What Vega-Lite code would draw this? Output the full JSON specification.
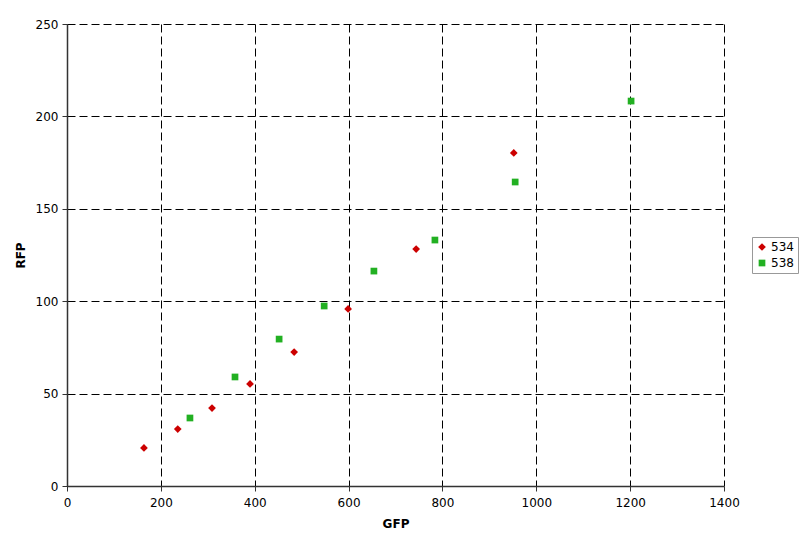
{
  "$schema": "https://vega.github.io/schema/vega-lite/v6.json",
  "width": 657,
  "height": 462,
  "autosize": {"type": "none"},
  "padding": {"left": 67, "top": 24, "right": 76, "bottom": 61},
  "background": "white",
  "config": {
    "view": {"stroke": null},
    "font": "DejaVu Sans",
    "axis": {
      "labelFont": "DejaVu Sans",
      "labelFontSize": 12,
      "labelColor": "#000000",
      "labelFlush": false,
      "labelOverlap": false,
      "format": "d",
      "titleFont": "DejaVu Sans",
      "titleFontSize": 12,
      "titleFontWeight": "bold",
      "titleColor": "#000000",
      "domainColor": "#333333",
      "domainWidth": 1.5,
      "tickColor": "#333333",
      "tickSize": 5,
      "gridColor": "#000000",
      "gridDash": [8, 4],
      "gridWidth": 1,
      "gridOpacity": 1
    }
  },
  "data": {
    "values": [
      {"series": "534", "GFP": 164, "RFP": 20.6},
      {"series": "534", "GFP": 236, "RFP": 30.8},
      {"series": "534", "GFP": 309, "RFP": 42.2},
      {"series": "534", "GFP": 390, "RFP": 55.2},
      {"series": "534", "GFP": 484, "RFP": 72.5},
      {"series": "534", "GFP": 599, "RFP": 95.8},
      {"series": "534", "GFP": 744, "RFP": 128.2},
      {"series": "534", "GFP": 952, "RFP": 180.2},
      {"series": "538", "GFP": 262, "RFP": 36.8},
      {"series": "538", "GFP": 358, "RFP": 59.0},
      {"series": "538", "GFP": 452, "RFP": 79.5},
      {"series": "538", "GFP": 548, "RFP": 97.4},
      {"series": "538", "GFP": 654, "RFP": 116.3},
      {"series": "538", "GFP": 784, "RFP": 133.1},
      {"series": "538", "GFP": 955, "RFP": 164.5},
      {"series": "538", "GFP": 1202, "RFP": 208.3}
    ]
  },
  "mark": {"type": "point", "filled": true, "opacity": 1},
  "encoding": {
    "x": {
      "field": "GFP",
      "type": "quantitative",
      "scale": {"domain": [0, 1400], "nice": false, "zero": true},
      "axis": {"values": [0, 200, 400, 600, 800, 1000, 1200, 1400], "title": "GFP", "labelPadding": 6, "titlePadding": 10}
    },
    "y": {
      "field": "RFP",
      "type": "quantitative",
      "scale": {"domain": [0, 250], "nice": false},
      "axis": {"values": [0, 50, 100, 150, 200, 250], "title": "RFP", "labelPadding": 4, "titlePadding": 8}
    },
    "color": {
      "field": "series",
      "type": "nominal",
      "scale": {"domain": ["534", "538"], "range": ["#cc0000", "#22b022"]},
      "legend": {
        "title": null,
        "orient": "none",
        "legendX": 685,
        "legendY": 213,
        "strokeColor": "#999999",
        "padding": 4,
        "labelFont": "DejaVu Sans",
        "labelFontSize": 12,
        "labelColor": "#000000",
        "labelOffset": 3,
        "symbolSize": 40,
        "rowPadding": 4
      }
    },
    "shape": {
      "field": "series",
      "type": "nominal",
      "scale": {"domain": ["534", "538"], "range": ["diamond", "square"]}
    },
    "size": {
      "field": "series",
      "type": "nominal",
      "scale": {"domain": ["534", "538"], "range": [60, 45]},
      "legend": null
    }
  }
}
